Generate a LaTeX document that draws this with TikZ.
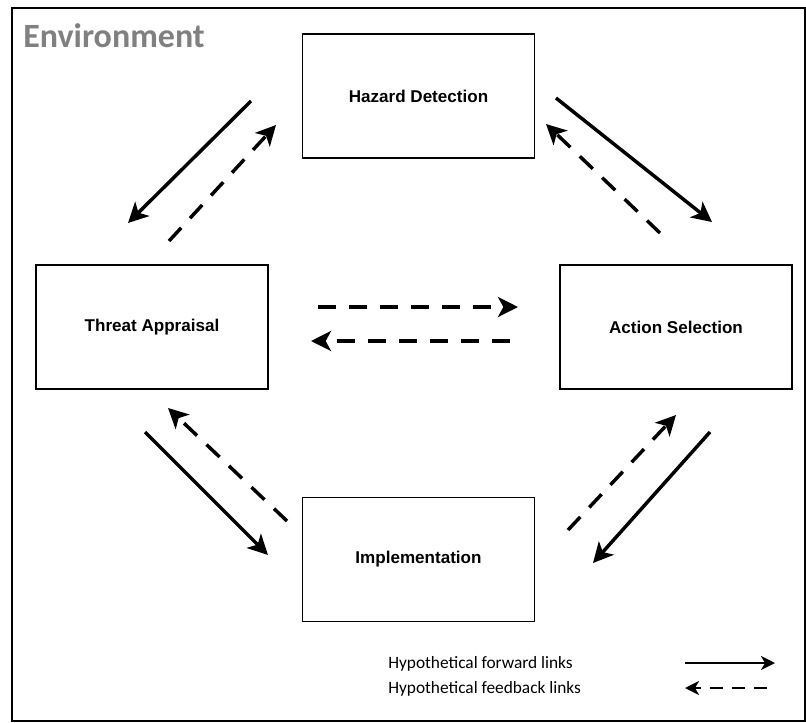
\documentclass[tikz,border=0pt]{standalone}
\usepackage{fontspec}
\setmainfont{Liberation Sans}
\newfontfamily\calibri{Carlito}
\usetikzlibrary{arrows.meta}
\begin{document}
\begin{tikzpicture}[x=0.75pt,y=-0.75pt,
  stage/.style={draw, line width=1pt, minimum width=174pt, minimum height=93pt,
    inner sep=0pt, font=\bfseries\fontsize{12.8}{15}\selectfont},
  fwd/.style={line width=2.6pt, -{Stealth[length=15pt,width=15pt,inset=4pt]}},
  fbk/.style={fwd, dash pattern=on 13.5pt off 9.75pt},
  keyfwd/.style={line width=2pt, -{Stealth[length=10.5pt,width=10.5pt,inset=3pt]}},
  keyfbk/.style={keyfwd, dash pattern=on 9.5pt off 7pt},
  keytext/.style={anchor=base west, inner sep=0pt, font=\calibri\fontsize{13}{15}\selectfont}
]
\useasboundingbox (0,0) rectangle (806,722);

% surrounding environment
\draw[line width=1.5pt] (12,8) rectangle (805,721);
\node[anchor=base west, inner sep=0pt, text=black!50,
  font=\calibri\bfseries\fontsize{25.5}{30}\selectfont] (title) at (23,47) {Environment};

% processing stages
\node[stage] (hd) at (418.5,96) {Hazard Detection};
\node[stage] (ta) at (152,327) {Threat Appraisal};
\node[stage] (as) at (676,327) {Action Selection};
\node[stage] (im) at (418.5,559.5) {Implementation};

% link end points
\coordinate (hdta1) at (251,101); \coordinate (hdta2) at (128,223);
\coordinate (tahd1) at (169,241); \coordinate (tahd2) at (276,125);
\coordinate (hdas1) at (556,98);  \coordinate (hdas2) at (712,222);
\coordinate (ashd1) at (660,233); \coordinate (ashd2) at (546,124);
\coordinate (taas1) at (318,307); \coordinate (taas2) at (518,307);
\coordinate (asta1) at (510,341); \coordinate (asta2) at (311,341);
\coordinate (taim1) at (145,432); \coordinate (taim2) at (268,555);
\coordinate (imta1) at (287,521); \coordinate (imta2) at (168,408);
\coordinate (imas1) at (568,530); \coordinate (imas2) at (676,415);
\coordinate (asim1) at (710,432); \coordinate (asim2) at (593,563);

% forward links
\draw[fwd] (hdta1) -- (hdta2);
\draw[fwd] (hdas1) -- (hdas2);
\draw[fwd] (taim1) -- (taim2);
\draw[fwd] (asim1) -- (asim2);

% feedback links
\draw[fbk] (tahd1) -- (tahd2);
\draw[fbk] (ashd1) -- (ashd2);
\draw[fbk] (taas1) -- (taas2);
\draw[fbk] (asta1) -- (asta2);
\draw[fbk] (imta1) -- (imta2);
\draw[fbk] (imas1) -- (imas2);

% key
\node[keytext] (kf) at (388,668) {Hypothetical forward links};
\node[keytext] (kb) at (388,693) {Hypothetical feedback links};
\coordinate (kf1) at (685,663); \coordinate (kf2) at (775,663);
\coordinate (kb1) at (767,688); \coordinate (kb2) at (685,688);
\draw[keyfwd] (kf1) -- (kf2);
\draw[keyfbk] (kb1) -- (kb2);
\end{tikzpicture}
\end{document}
